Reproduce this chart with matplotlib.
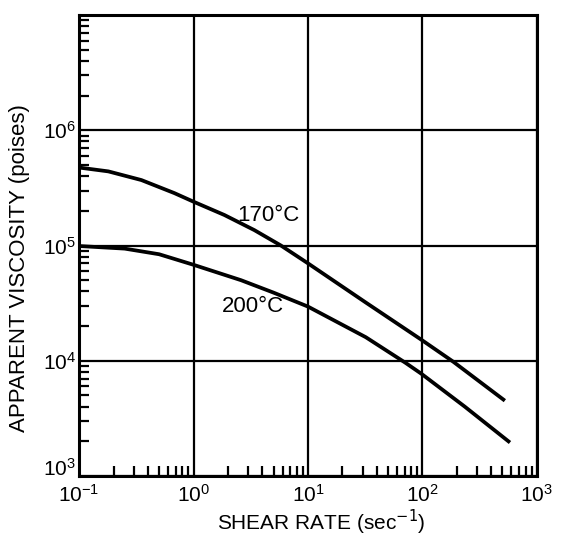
import numpy as np
import matplotlib.pyplot as plt
from matplotlib.ticker import LogLocator, NullFormatter

plt.rcParams['font.family'] = ['Liberation Sans', 'DejaVu Sans']

# values (shear rate sec-1, viscosity poises)
rate_170 = [0.1, 0.18, 0.35, 0.68, 1.0, 1.86, 3.4, 5.8, 10.0, 32.0, 98.0, 186.0, 525.0]
visc_170 = [4.75e5, 4.4e5, 3.7e5, 2.85e5, 2.4e5, 1.84e5, 1.36e5, 1.0e5, 7.0e4, 3.2e4, 1.52e4, 9.8e3, 4.5e3]

rate_200 = [0.1, 0.25, 0.5, 1.0, 2.6, 5.0, 10.0, 32.0, 71.0, 98.0, 234.0, 582.0]
visc_200 = [9.9e4, 9.4e4, 8.4e4, 6.8e4, 5.0e4, 3.9e4, 2.95e4, 1.6e4, 9.6e3, 7.7e3, 4.0e3, 1.95e3]

curve_labels = ["170°C", "200°C"]
label_pos = [(4.5, 1.82e5), (3.3, 2.95e4)]

x_ticks = [1e-1, 1e0, 1e1, 1e2, 1e3]
x_ticklabels = [r'$\mathregular{10^{-1}}$', r'$\mathregular{10^{0}}$', r'$\mathregular{10^{1}}$',
                r'$\mathregular{10^{2}}$', r'$\mathregular{10^{3}}$']
y_ticks = [1e3, 1e4, 1e5, 1e6]
y_ticklabels = [r'$\mathregular{10^{3}}$', r'$\mathregular{10^{4}}$', r'$\mathregular{10^{5}}$',
                r'$\mathregular{10^{6}}$']

fig = plt.figure(figsize=(5.61, 5.39), dpi=100)
ax = fig.add_axes([0.141, 0.117, 0.816, 0.855])

ax.plot(rate_170, visc_170, color='black', lw=2.7, solid_capstyle='butt', solid_joinstyle='round')
ax.plot(rate_200, visc_200, color='black', lw=2.7, solid_capstyle='butt', solid_joinstyle='round')

for txt, (x, y) in zip(curve_labels, label_pos):
    ax.text(x, y, txt, fontsize=16, ha='center', va='center')

ax.set_xscale('log')
ax.set_yscale('log')
ax.set_xlim(1e-1, 1e3)
ax.set_ylim(1e3, 1e7)

ax.set_xticks(x_ticks)
ax.set_xticklabels(x_ticklabels)
ax.set_yticks(y_ticks)
ax.set_yticklabels(y_ticklabels)
ax.xaxis.set_minor_locator(LogLocator(base=10, subs=np.arange(2, 10)))
ax.yaxis.set_minor_locator(LogLocator(base=10, subs=np.arange(2, 10)))
ax.xaxis.set_minor_formatter(NullFormatter())
ax.yaxis.set_minor_formatter(NullFormatter())

ax.grid(True, which='major', color='black', lw=1.6)
ax.tick_params(which='major', length=0, labelsize=15)
ax.tick_params(axis='x', which='major', pad=6)
ax.tick_params(axis='y', which='major', pad=2)
ax.tick_params(which='minor', direction='in', length=7, width=1.6)
ax.tick_params(top=False, right=False)
for s in ax.spines.values():
    s.set_linewidth(2.2)
# bottom-left 10^3 sits on the axis corner, clear of 10^-1
ax.get_yticklabels()[0].set_va('baseline')

ax.set_xlabel('SHEAR RATE (sec$^{-1}$)', fontsize=15)
ax.set_ylabel('APPARENT VISCOSITY (poises)', fontsize=16)
ax.xaxis.set_label_coords(0.53, -0.07)
ax.yaxis.set_label_coords(-0.108, 0.45)

fig.savefig('out.png', dpi=100)
